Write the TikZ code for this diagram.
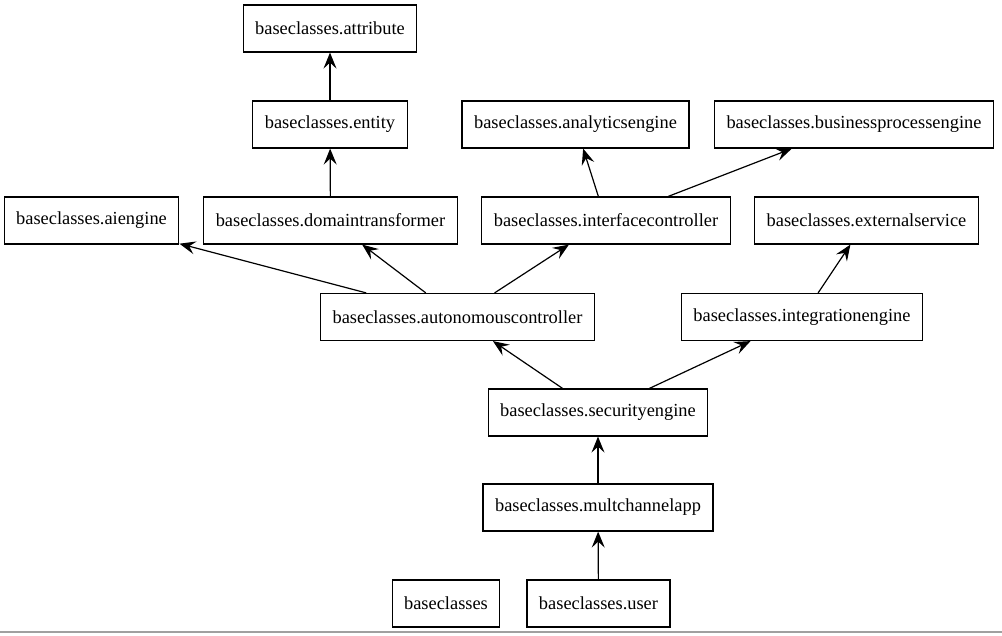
\documentclass[tikz,border=0pt]{standalone}
\usepackage{fontspec}
\setmainfont{Liberation Serif}
\usetikzlibrary{arrows.meta}
\begin{document}
\begin{tikzpicture}[x=1pt,y=-1pt,
  cls/.style={draw,line width=1.2pt,minimum height=47pt,inner xsep=12pt,
    font=\fontsize{18.4}{22}\selectfont},
  dep/.style={line width=1.2pt,-{Stealth[length=16pt,width=13pt,inset=6pt]}}]
\useasboundingbox (0,0) rectangle (1002,635);
\fill[white] (0,0) rectangle (1002,635);
\draw[line width=2pt,color={rgb,255:red,160;green,160;blue,160}] (0,632) -- (1002,632);
\node[cls] (attr) at (330,28.5) {baseclasses.attribute};
\node[cls] (ent) at (330,124.5) {baseclasses.entity};
\node[cls] (ana) at (575.5,124.5) {baseclasses.analyticsengine};
\node[cls] (bpe) at (854,124.5) {baseclasses.businessprocessengine};
\node[cls] (ai) at (91.5,220.5) {baseclasses.aiengine};
\node[cls] (dt) at (330.5,220.5) {baseclasses.domaintransformer};
\node[cls] (ic) at (606,220.5) {baseclasses.interfacecontroller};
\node[cls] (ext) at (866.5,220.5) {baseclasses.externalservice};
\node[cls] (auto) at (457.5,317) {baseclasses.autonomouscontroller};
\node[cls] (int) at (802,317) {baseclasses.integrationengine};
\node[cls] (sec) at (598,412.5) {baseclasses.securityengine};
\node[cls] (mca) at (598,507.5) {baseclasses.multchannelapp};
\node[cls] (bc) at (446,603.5) {baseclasses};
\node[cls] (user) at (598.5,603.5) {baseclasses.user};
\draw[dep] (ent) -- (attr);
\draw[dep] (dt) -- (ent);
\draw[dep] (auto) -- (ai);
\draw[dep] (auto) -- (dt);
\draw[dep] (auto) -- (ic);
\draw[dep] (ic) -- (ana);
\draw[dep] (ic) -- (bpe);
\draw[dep] (int) -- (ext);
\draw[dep] (sec) -- (auto);
\draw[dep] (sec) -- (int);
\draw[dep] (mca) -- (sec);
\draw[dep] (user) -- (mca);
\end{tikzpicture}
\end{document}
